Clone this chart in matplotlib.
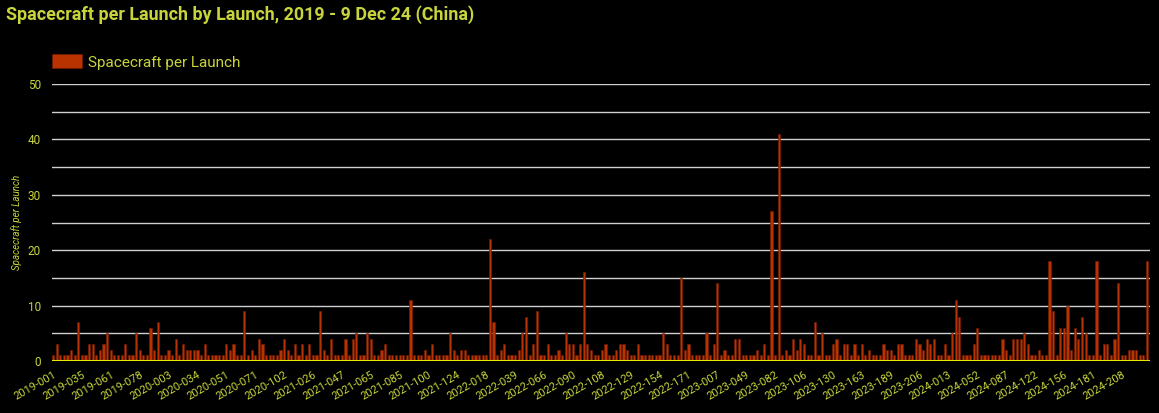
import matplotlib
matplotlib.use("Agg")
import matplotlib.pyplot as plt
import numpy as np

# spacecraft per launch, one value per Chinese launch (2019 - 9 Dec 2024)
values = [
    # 2019 .. early 2021
    1, 3, 1, 1, 1, 2, 1, 7, 1, 1, 3, 3, 1, 2, 3, 5, 2, 1, 1, 1,
    3, 1, 1, 5, 2, 1, 1, 6, 2, 7, 1, 1, 2, 1, 4, 1, 3, 2, 2, 2,
    2, 1, 3, 1, 1, 1, 1, 1, 3, 2, 3, 1, 1, 9, 1, 2, 1, 4, 3, 1,
    1, 1, 1, 2, 4, 2, 1, 3, 1, 3, 1, 3, 1, 1, 9, 2,
    # 2021 .. 2022
    1, 4, 1, 1, 1, 4, 1, 4, 5, 1, 1, 5, 4, 1, 1, 2, 3, 1, 1, 1,
    1, 1, 1, 11, 1, 1, 1, 2, 1, 3, 1, 1, 1, 1, 5, 2, 1, 2, 2, 1,
    1, 1, 1, 1, 1, 22, 7, 1, 2, 3, 1, 1, 1, 2, 5, 8, 1, 3, 9, 1,
    1, 3, 1, 1, 2, 1, 5, 3, 3, 1, 3, 16, 3, 2, 1, 1, 2,
    # 2022 .. 2023
    3, 1, 1, 2, 3, 3, 2, 1, 1, 3, 1, 1, 1, 1, 1, 1, 5, 3, 1, 1,
    1, 15, 2, 3, 1, 1, 1, 1, 5, 1, 3, 14, 1, 2, 1, 1, 4, 4, 1, 1,
    1, 1, 2, 1, 3, 1, 27, 1, 41, 1, 2, 1, 4, 2, 4, 3, 1, 1, 7, 1,
    5, 1, 1, 3, 4, 1, 3, 3, 1, 3, 1, 3, 1, 2, 1, 1,
    # 2023 .. 2024
    1, 3, 2, 2, 1, 3, 3, 1, 1, 1, 4, 3, 2, 4, 3, 4, 1, 1, 3, 1,
    5, 11, 8, 1, 1, 1, 3, 6, 1, 1, 1, 1, 1, 1, 4, 2, 1, 4, 4, 4,
    5, 3, 1, 1, 2, 1, 1, 18, 9, 1, 6, 6, 10, 2, 6, 4, 8, 5, 1, 1,
    18, 1, 3, 3, 1, 4, 14, 1, 1, 2, 2, 2, 1, 1, 18,
]

tick_labels = [
    "2019-001", "2019-035", "2019-061", "2019-078", "2020-003", "2020-034",
    "2020-051", "2020-071", "2020-102", "2021-026", "2021-047", "2021-065",
    "2021-085", "2021-100", "2021-124", "2022-018", "2022-039", "2022-066",
    "2022-090", "2022-108", "2022-129", "2022-154", "2022-171", "2023-007",
    "2023-049", "2023-082", "2023-106", "2023-130", "2023-163", "2023-189",
    "2023-206", "2024-013", "2024-052", "2024-087", "2024-122", "2024-156",
    "2024-181", "2024-208",
]
tick_step = 8

txt = "#c8d43c"
bar_col = "#b83300"

plt.rcParams["font.family"] = ["Roboto", "DejaVu Sans"]

fig = plt.figure(figsize=(11.59, 4.13), dpi=100, facecolor="black")
ax = fig.add_axes([52 / 1159, 1 - 361 / 413, (1150 - 52) / 1159, (361 - 84) / 413])
ax.set_facecolor("black")

x = np.arange(len(values))
ax.bar(x, values, width=0.6, color=bar_col, edgecolor="#7a1c00", linewidth=0.4,
       zorder=3, label="Spacecraft per Launch")

ax.set_xlim(-0.28, len(values) - 1 + 0.83)
ax.set_ylim(0, 50)
ax.set_yticks(np.arange(0, 51, 10))
ax.set_yticks(np.arange(0, 51, 5), minor=True)
ax.grid(axis="y", which="both", color="#d0d0d0", linewidth=1, zorder=0)
ax.axhline(0, color="#e8e800", linewidth=1.5, zorder=4)

ax.set_xticks(x[::tick_step][:len(tick_labels)])
ax.set_xticklabels(tick_labels, rotation=30, ha="right", rotation_mode="anchor",
                   fontsize=8, color=txt)
ax.tick_params(axis="x", length=0, pad=6)
ax.tick_params(axis="y", which="both", length=0, labelsize=8.5, labelcolor=txt, pad=8)

for s in ax.spines.values():
    s.set_visible(False)

ax.set_ylabel("Spacecraft per Launch", fontsize=7, color=txt, style="italic", labelpad=4)

fig.text(6 / 1159, 1 - 15 / 413, "Spacecraft per Launch by Launch, 2019 - 9 Dec 24 (China)",
         fontsize=12.9, fontweight="bold", color=txt, va="center", ha="left")

leg = fig.legend(loc="center left", bbox_to_anchor=(52 / 1159, 1 - 62 / 413),
                 frameon=False, fontsize=11, handlelength=1.95, handleheight=1.0,
                 handletextpad=0.4, borderpad=0, borderaxespad=0)
for t in leg.get_texts():
    t.set_color(txt)

fig.savefig("out.png", dpi=100, facecolor="black")
